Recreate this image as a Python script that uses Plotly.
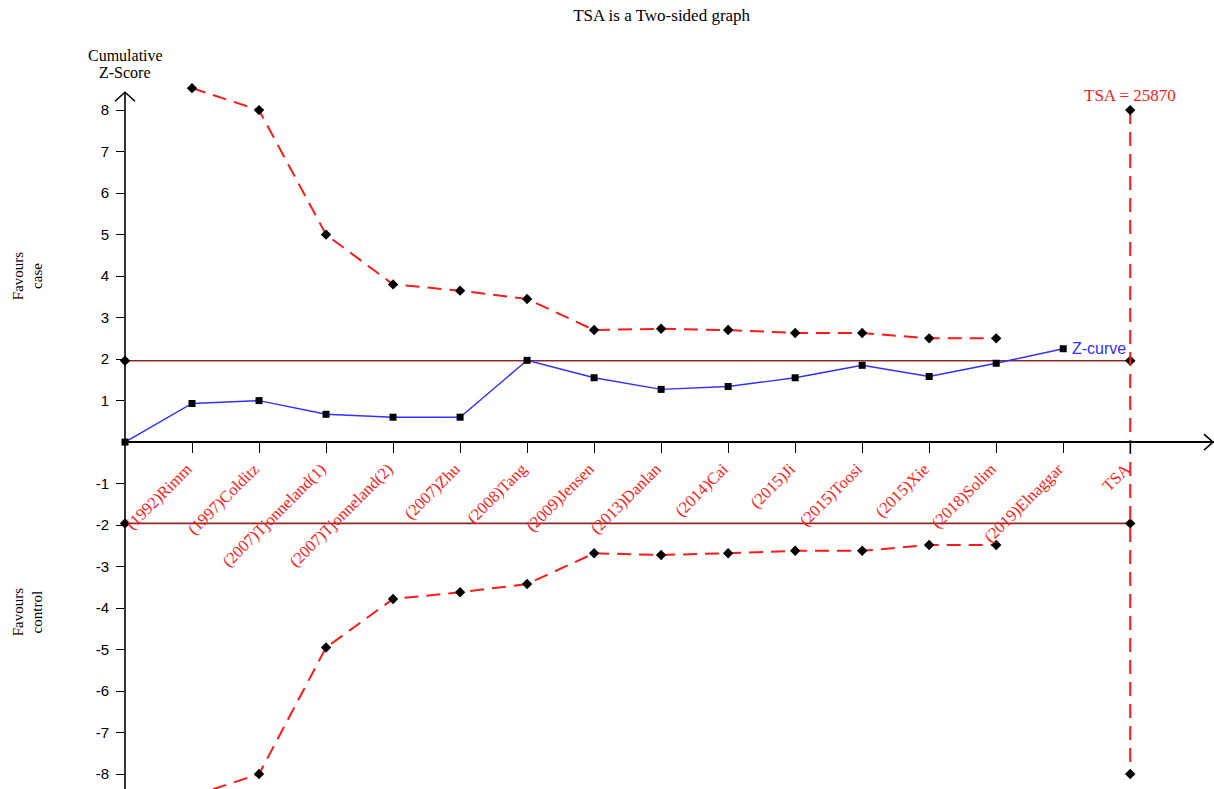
import plotly.graph_objects as go

# Studies in cumulative order (x positions 1..14), then the TSA column (15)
studies = ["(1992)Rimm", "(1997)Colditz", "(2007)Tjonneland(1)", "(2007)Tjonneland(2)",
           "(2007)Zhu", "(2008)Tang", "(2009)Jensen", "(2013)Danlan", "(2014)Cai",
           "(2015)Ji", "(2015)Toosi", "(2015)Xie", "(2018)Solim", "(2019)Elnaggar", "TSA"]
study_pos = list(range(1, 16))

# Cumulative Z-curve (starts at the origin)
z_x = list(range(0, 15))
z_curve = [0.0, 0.93, 1.0, 0.67, 0.60, 0.60, 1.97, 1.55, 1.27, 1.34, 1.55, 1.85, 1.58, 1.90, 2.25]

# Trial sequential monitoring boundaries
bound_x = list(range(1, 14))
upper_bound = [8.53, 8.0, 5.0, 3.80, 3.65, 3.45, 2.70, 2.73, 2.70, 2.63, 2.63, 2.50, 2.50]
lower_bound = [-8.53, -8.0, -4.95, -3.78, -3.62, -3.42, -2.68, -2.72, -2.68, -2.62, -2.62, -2.48, -2.48]

# Conventional significance limits and the required information size line
conv_x = [0, 15]
conv_upper = [1.96, 1.96]
conv_lower = [-1.96, -1.96]
tsa_x = [15, 15]
tsa_y = [8, -8]
tsa_label = "TSA = 25870"

y_ticks = [-8, -7, -6, -5, -4, -3, -2, -1, 1, 2, 3, 4, 5, 6, 7, 8]

# Axis ranges (the x axis crosses at y = 0)
x_min, x_max = 0.0, 16.25
y_min, y_max = -8.36, 8.75
y_axis_top = 8.43

def px_(x):
    return (x - x_min) / (x_max - x_min)

def py_(y):
    return (y - y_min) / (y_max - y_min)

RED = "#ff1a1a"
DARKRED = "#8c2a2a"
SERIF = "Liberation Serif"

fig = go.Figure()

fig.add_trace(go.Scatter(x=conv_x, y=conv_upper, mode="lines+markers",
                         line=dict(color=DARKRED, width=1.6),
                         marker=dict(symbol="diamond", size=8, color="black"),
                         cliponaxis=False, showlegend=False, hoverinfo="skip"))
fig.add_trace(go.Scatter(x=conv_x, y=conv_lower, mode="lines+markers",
                         line=dict(color=DARKRED, width=1.6),
                         marker=dict(symbol="diamond", size=8, color="black"),
                         cliponaxis=False, showlegend=False, hoverinfo="skip"))

fig.add_trace(go.Scatter(x=tsa_x, y=tsa_y, mode="lines+markers",
                         line=dict(color=RED, width=2, dash="14px,8px"),
                         marker=dict(symbol="diamond", size=8, color="black"),
                         cliponaxis=False, showlegend=False))

fig.add_trace(go.Scatter(x=bound_x, y=upper_bound, mode="lines+markers",
                         line=dict(color=RED, width=2, dash="14px,8px"),
                         marker=dict(symbol="diamond", size=8, color="black"),
                         showlegend=False))
fig.add_trace(go.Scatter(x=bound_x, y=lower_bound, mode="lines+markers",
                         line=dict(color=RED, width=2, dash="14px,8px"),
                         marker=dict(symbol="diamond", size=8, color="black"),
                         showlegend=False))

fig.add_trace(go.Scatter(x=z_x, y=z_curve, mode="lines+markers",
                         line=dict(color="#3030ff", width=1.4),
                         marker=dict(symbol="square", size=7, color="black"),
                         cliponaxis=False, showlegend=False))

# Axis lines with open arrow heads
axis_style = dict(color="black", width=1.6)
fig.add_shape(type="line", xref="paper", yref="paper",
              x0=px_(0), x1=px_(0), y0=0, y1=py_(y_axis_top), line=axis_style)
fig.add_shape(type="path", xref="paper", yref="paper",
              xsizemode="pixel", ysizemode="pixel",
              xanchor=px_(0), yanchor=py_(y_axis_top),
              path="M -10,-9 L 0,0 L 10,-9", line=axis_style)
fig.add_shape(type="path", xref="paper", yref="paper",
              xsizemode="pixel", ysizemode="pixel",
              xanchor=1.0, yanchor=py_(0),
              path="M -10,8 L -1,0 L -10,-8", line=axis_style)

annotations = [
    dict(x=14, y=z_curve[-1], xref="x", yref="y", text="Z-curve", showarrow=False,
         xanchor="left", xshift=7, font=dict(family="Liberation Sans", size=16, color="#3030ff")),
    dict(x=15, y=8, xref="x", yref="y", text=tsa_label, showarrow=False,
         xanchor="center", yanchor="bottom", yshift=3,
         font=dict(family=SERIF, size=17, color=RED)),
    dict(x=px_(0), y=py_(y_max), xref="paper", yref="paper", text="Cumulative",
         showarrow=False, xanchor="center", yanchor="middle", yshift=24,
         font=dict(family=SERIF, size=16, color="black")),
    dict(x=px_(0), y=py_(y_max), xref="paper", yref="paper", text="Z-Score",
         showarrow=False, xanchor="center", yanchor="middle", yshift=7,
         font=dict(family=SERIF, size=16, color="black")),
    dict(x=-0.089, y=py_(4.0), xref="paper", yref="paper", text="Favours<br>case",
         showarrow=False, textangle=-90, xanchor="center", yanchor="middle",
         font=dict(family=SERIF, size=15, color="black")),
    dict(x=-0.089, y=py_(-4.1), xref="paper", yref="paper", text="Favours<br>control",
         showarrow=False, textangle=-90, xanchor="center", yanchor="middle",
         font=dict(family=SERIF, size=15, color="black")),
]

fig.update_layout(
    width=1214, height=789,
    margin=dict(l=125, r=0, t=79, b=0),
    paper_bgcolor="white", plot_bgcolor="white",
    title=dict(text="TSA is a Two-sided graph", x=0.545, xanchor="center", y=0.988,
               yanchor="top", font=dict(family=SERIF, size=17, color="black")),
    xaxis=dict(range=[x_min, x_max], anchor="free", position=py_(0),
               showline=True, linecolor="black", linewidth=1.6,
               tickmode="array", tickvals=study_pos, ticktext=studies,
               ticks="outside", ticklen=10, tickcolor="black", tickwidth=1.4,
               tickangle=-45, ticklabelshift=-5,
               tickfont=dict(family=SERIF, size=16.5, color=RED),
               showgrid=False, zeroline=False),
    yaxis=dict(range=[y_min, y_max], showline=False,
               tickmode="array", tickvals=y_ticks, ticktext=[str(v) for v in y_ticks],
               ticks="outside", ticklen=8, tickcolor="black", tickwidth=1.4,
               ticklabelstandoff=4,
               tickfont=dict(family="Liberation Sans", size=15, color="black"),
               showgrid=False, zeroline=False),
    annotations=annotations,
)

fig.write_html("out.html")
